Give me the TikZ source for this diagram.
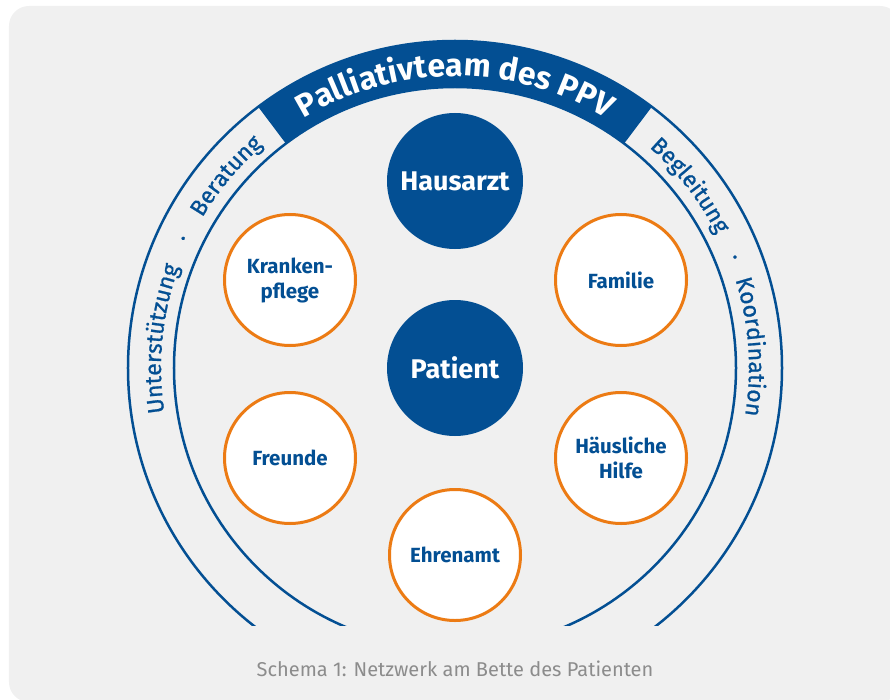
\documentclass[tikz,border=0pt]{standalone}
\usepackage{fontspec}
\setmainfont{Fira Sans}
\usetikzlibrary{decorations.text}
\definecolor{ppvblue}{HTML}{034F93}
\definecolor{ppvorange}{HTML}{EC7B14}
\definecolor{panelgray}{HTML}{F0F0F0}
\definecolor{captiongray}{HTML}{8C8C8C}
\newcommand{\bandfont}{\fontsize{32}{34}\selectfont\bfseries}
\newcommand{\sidefont}{\fontsize{23}{26}\selectfont\addfontfeature{FakeBold=0.9}}
\tikzstyle{blue_disc}=[circle,fill=ppvblue,text=white,minimum size=136pt,inner sep=0pt,font=\fontsize{27}{30}\selectfont\bfseries]
\tikzstyle{orange_ring}=[circle,draw=ppvorange,line width=3pt,fill=white,minimum size=131pt,inner sep=0pt,text=ppvblue,align=center,font=\fontsize{20.5}{25}\selectfont\bfseries]
\tikzstyle{ring_line}=[draw=ppvblue,line width=2.5pt]
\tikzstyle{arc_text}=[decorate,decoration={text along path,text align=center,text color=ppvblue}]

\begin{document}
\begin{tikzpicture}[x=1pt,y=1pt]
\useasboundingbox (-455,-331) rectangle (435,368);
\fill[panelgray,rounded corners=20pt] (-446,362) rectangle (445,-334);
% the two rings, open at the bottom
\begin{scope}
\clip (-460,-257) rectangle (440,370);
\draw[ring_line] (0,0) circle (327);
\draw[ring_line] (0,0) circle (281);
\end{scope}
\fill[ppvblue] (53:281) arc[start angle=53,end angle=127,radius=281] -- (127:327) arc[start angle=127,end angle=53,radius=327] -- cycle;
\path[decorate,decoration={text along path,text align=center,text color=white,text={|\bandfont|Palliativteam des PPV}}] (127:292) arc[start angle=127,end angle=53,radius=292];
% words between the rings
\path[arc_text,decoration={text={|\sidefont|Unterstützung}}] (194.3:294) arc[start angle=194.3,end angle=154.3,radius=294];
\path[arc_text,decoration={text={|\sidefont|Beratung}}] (160:294) arc[start angle=160,end angle=120,radius=294];
\path[arc_text,decoration={text={|\sidefont|Begleitung}}] (57.8:294) arc[start angle=57.8,end angle=17.8,radius=294];
\path[arc_text,decoration={text={|\sidefont|Koordination}}] (24.1:294) arc[start angle=24.1,end angle=-15.9,radius=294];
\node (dotL) at (154.5:294)[anchor=base,rotate=64.5,text=ppvblue,font=\sidefont] {·};
\node (dotR) at (21.6:294)[anchor=base,rotate=-68.4,text=ppvblue,font=\sidefont] {·};
% people around the patient
\node (hausarzt) at (0,187)[blue_disc] {Hausarzt};
\node (patient) at (0,0)[blue_disc] {Patient};
\node (pflege) at (-165,88)[orange_ring] {Kranken-\\pflege};
\node (familie) at (166,88)[orange_ring] {Familie};
\node (freunde) at (-165,-90)[orange_ring] {Freunde};
\node (hilfe) at (166,-90)[orange_ring] {Häusliche\\Hilfe};
\node (ehrenamt) at (0,-187)[orange_ring] {Ehrenamt};
\node (caption) at (0,-308.7)[anchor=base,text=captiongray,font=\fontsize{20}{22}\selectfont] {Schema 1: Netzwerk am Bette des Patienten};
\end{tikzpicture}
\end{document}
